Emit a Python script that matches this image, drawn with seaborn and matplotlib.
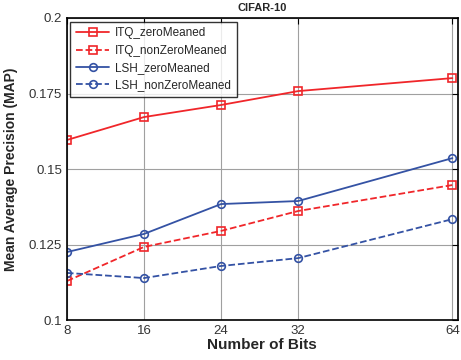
import matplotlib
matplotlib.use("Agg")
import matplotlib.pyplot as plt
import seaborn as sns
import pandas as pd

bits = [8, 16, 24, 32, 64]
bit_pos = [1, 2, 3, 4, 6]  # plotted on an uneven categorical axis
itq_zero = [0.1596, 0.1672, 0.1712, 0.1758, 0.1801]
itq_nonzero = [0.1129, 0.1242, 0.1295, 0.1361, 0.1447]
lsh_zero = [0.1225, 0.1285, 0.1384, 0.1394, 0.1536]
lsh_nonzero = [0.1156, 0.1139, 0.1179, 0.1205, 0.1334]
yticks = [0.1, 0.125, 0.15, 0.175, 0.2]
ytick_labels = ["0.1", "0.125", "0.15", "0.175", "0.2"]

series = [
    ("ITQ_zeroMeaned", itq_zero, "#f0262a", "-", "s"),
    ("ITQ_nonZeroMeaned", itq_nonzero, "#f0262a", "--", "s"),
    ("LSH_zeroMeaned", lsh_zero, "#3452a4", "-", "o"),
    ("LSH_nonZeroMeaned", lsh_nonzero, "#3452a4", "--", "o"),
]

sns.set_style("white")
plt.rcParams["font.family"] = ["Liberation Sans", "DejaVu Sans"]

fig = plt.figure(figsize=(4.61, 3.6), dpi=100)
ax = fig.add_axes([0.145, 0.111, 0.848, 0.839])

for name, vals, col, ls, mk in series:
    df = pd.DataFrame({"x": bit_pos, "y": vals})
    sns.lineplot(data=df, x="x", y="y", ax=ax, color=col, linestyle=ls,
                 marker=mk, markersize=5.5, markerfacecolor="none",
                 markeredgecolor=col, markeredgewidth=1.2, linewidth=1.3,
                 label=name)

ax.set_xlim(1, 6.07)
ax.set_ylim(0.1, 0.2)
ax.set_xticks(bit_pos)
ax.set_xticklabels([str(b) for b in bits])
ax.set_yticks(yticks)
ax.set_yticklabels(ytick_labels)
ax.grid(True, color="#a0a0a0", linewidth=0.8)
ax.tick_params(direction="in", length=4, labelsize=9.5, colors="black",
               top=True, right=True, labelcolor="#333333")
for sp in ax.spines.values():
    sp.set_color("black")
    sp.set_linewidth(1.2)

ax.set_title("CIFAR-10", fontsize=8, fontweight="bold", pad=5)
ax.set_xlabel("Number of Bits", fontsize=11, fontweight="bold", labelpad=1)
ax.set_ylabel("Mean Average Precision (MAP)", fontsize=10, fontweight="bold",
              labelpad=8)

leg = ax.legend(loc="upper left", fontsize=8.5, frameon=True, fancybox=False,
                edgecolor="black", borderaxespad=0.3, handlelength=2.8,
                labelspacing=0.45, borderpad=0.5, handletextpad=0.5)
leg.get_frame().set_linewidth(1.0)

fig.savefig("out.png", dpi=100)
